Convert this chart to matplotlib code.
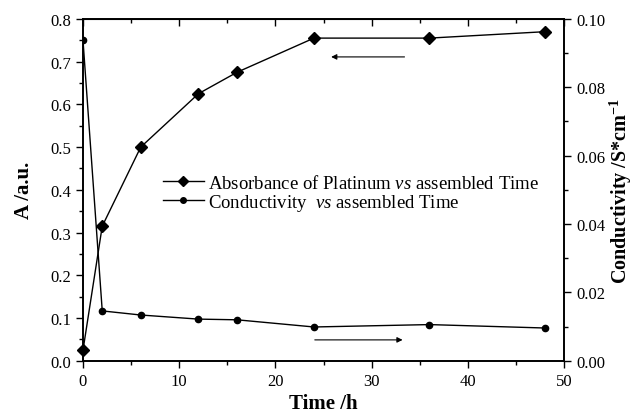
import matplotlib.pyplot as plt
from matplotlib.lines import Line2D

plt.rcParams['font.family'] = ['Liberation Serif', 'DejaVu Serif']
plt.rcParams['mathtext.fontset'] = 'custom'
plt.rcParams['mathtext.rm'] = 'Liberation Serif'
plt.rcParams['mathtext.it'] = 'Liberation Serif:italic'
plt.rcParams['mathtext.bf'] = 'Liberation Serif:bold'

time_abs = [0, 2, 6, 12, 16, 24, 36, 48]
absorbance = [0.025, 0.315, 0.50, 0.625, 0.675, 0.755, 0.755, 0.77]

time_cond = [0, 2, 6, 12, 16, 24, 36, 48]
conductivity = [0.0937, 0.0146, 0.0134, 0.0122, 0.0120, 0.0099, 0.0106, 0.0096]

fig = plt.figure(figsize=(6.36, 4.14), dpi=100)
ax = fig.add_axes([0.1305, 0.126, 0.7565, 0.826])
ax2 = ax.twinx()

ax.plot(time_abs, absorbance, color='black', lw=1.0, marker='D', ms=6, clip_on=False)
ax2.plot(time_cond, conductivity, color='black', lw=1.0, marker='o', ms=4.5)

ax.set_xlim(0, 50)
ax.set_ylim(0, 0.8)
ax2.set_ylim(0, 0.10)
ax.set_xticks(range(0, 51, 10))
ax.set_xticks(range(5, 50, 10), minor=True)
ax.set_yticks([i / 10 for i in range(9)])
ax.set_yticklabels(['%.1f' % (i / 10) for i in range(9)])
ax.set_yticks([i / 20 for i in range(1, 16, 2)], minor=True)
ax2.set_yticks([0, 0.02, 0.04, 0.06, 0.08, 0.10])
ax2.set_yticklabels(['0.00', '0.02', '0.04', '0.06', '0.08', '0.10'])
ax2.set_yticks([0.01, 0.03, 0.05, 0.07, 0.09], minor=True)

for a in (ax, ax2):
    a.tick_params(which='major', direction='out', length=5, width=1, labelsize=12)
    a.tick_params(which='minor', direction='out', length=3, width=1)
    for s in a.spines.values():
        s.set_linewidth(1.2)

# top axis: inward ticks, no labels
top = ax.secondary_xaxis('top')
top.set_xticks(range(0, 51, 10))
top.set_xticks(range(5, 50, 10), minor=True)
top.tick_params(which='both', direction='in', labeltop=False, width=1)
top.tick_params(which='major', length=5)
top.tick_params(which='minor', length=3)

ax.set_xlabel('Time /h', fontsize=15, fontweight='bold', labelpad=3)
ax.set_ylabel('A /a.u.', fontsize=15, fontweight='bold', labelpad=12)
ax2.set_ylabel('Conductivity /S*cm$^{\\mathbf{-1}}$', fontsize=14.5, fontweight='bold', labelpad=2)

handles = [
    Line2D([], [], color='black', lw=1.0, marker='D', ms=5),
    Line2D([], [], color='black', lw=1.0, marker='o', ms=4),
]
labels = ['Absorbance of Platinum $\\it{vs}$ assembled Time',
          'Conductivity  $\\it{vs}$ assembled Time']
ax.legend(handles, labels, loc='center left', bbox_to_anchor=(0.15, 0.49),
          frameon=False, fontsize=13.5, handlelength=2.2, handletextpad=0.2,
          labelspacing=0.0, borderaxespad=0)

ax.annotate('', xy=(25.5, 0.711), xytext=(33.7, 0.711),
            arrowprops=dict(arrowstyle='-|>', color='black', lw=0.8, mutation_scale=8))
ax.annotate('', xy=(33.5, 0.049), xytext=(23.8, 0.049),
            arrowprops=dict(arrowstyle='-|>', color='black', lw=0.8, mutation_scale=8))

fig.savefig('out.png', dpi=100)
